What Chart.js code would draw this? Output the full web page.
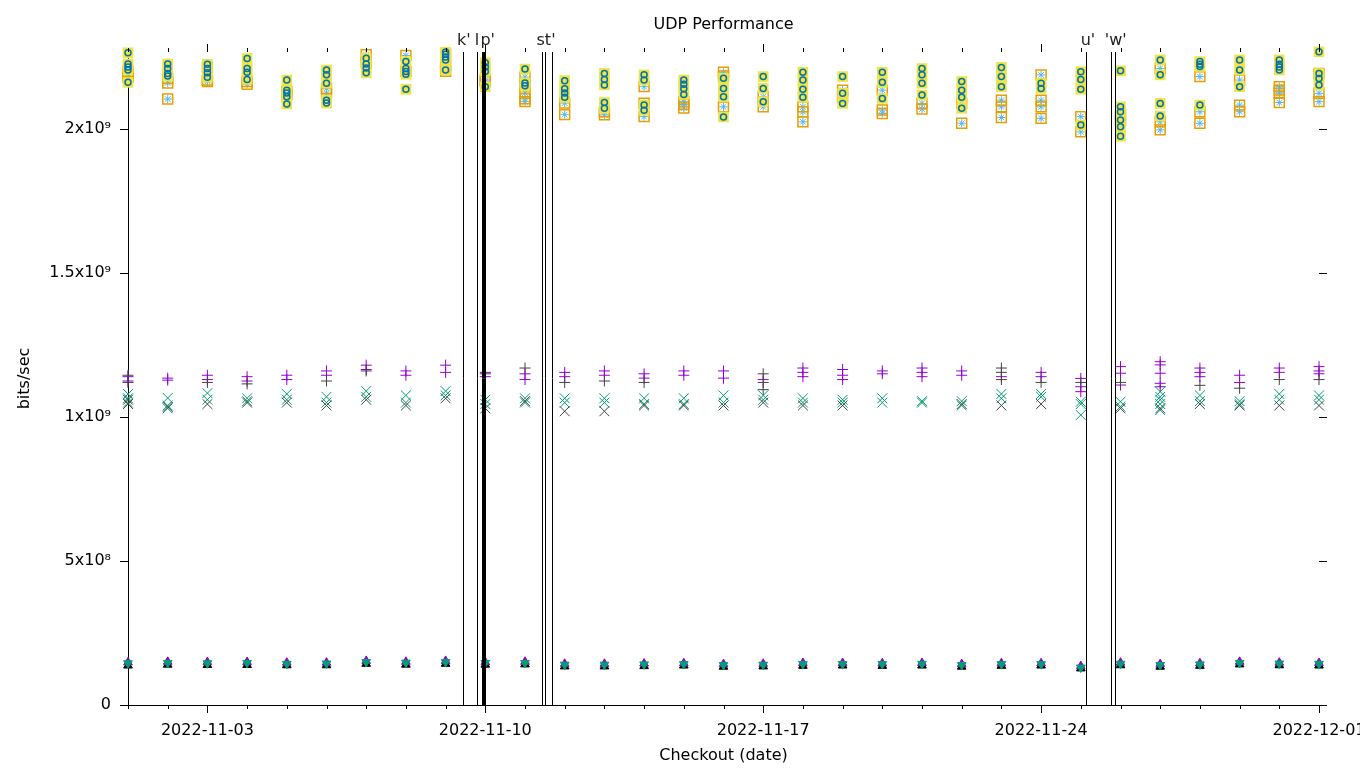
<!DOCTYPE html>
<html>
<head>
<meta charset="utf-8">
<title>UDP Performance</title>
<script src="https://cdn.jsdelivr.net/npm/chart.js@4.4.0/dist/chart.umd.min.js"></script>
<style>
  html, body { margin: 0; padding: 0; background: #fff; }
  canvas { display: block; }
</style>
</head>
<body>
<canvas id="grafica" width="1360" height="768"></canvas>
<script>
// fechas de checkout (una corrida por dia, varias muestras por dia)
const fechas = [
  '2022-11-01', '2022-11-02', '2022-11-03', '2022-11-04', '2022-11-05', '2022-11-06',
  '2022-11-07', '2022-11-08', '2022-11-09', '2022-11-10', '2022-11-11', '2022-11-12',
  '2022-11-13', '2022-11-14', '2022-11-15', '2022-11-16', '2022-11-17', '2022-11-18',
  '2022-11-19', '2022-11-20', '2022-11-21', '2022-11-22', '2022-11-23', '2022-11-24',
  '2022-11-25', '2022-11-26', '2022-11-27', '2022-11-28', '2022-11-29', '2022-11-30',
  '2022-12-01'
];
const fechasEtiqueta = ['2022-11-03', '2022-11-10', '2022-11-17', '2022-11-24', '2022-12-01'];
const yTicks = [0, 5e8, 1e9, 1.5e9, 2e9];

// valores en Gbit/s, un arreglo por dia
// grupo alto: cuadro amarillo + circulo azul (coinciden)
const altoA = [
  [2.265, 2.226, 2.215, 2.205, 2.162], [2.226, 2.21, 2.193, 2.184], [2.225, 2.21, 2.195, 2.18],
  [2.245, 2.21, 2.197, 2.172], [2.17, 2.135, 2.125, 2.112, 2.087], [2.205, 2.188, 2.159, 2.1, 2.09],
  [2.246, 2.226, 2.212, 2.195], [2.234, 2.21, 2.2, 2.19, 2.138], [2.267, 2.26, 2.25, 2.24, 2.205],
  [2.23, 2.215, 2.2, 2.147], [2.208, 2.16, 2.15], [2.168, 2.14, 2.125, 2.11],
  [2.193, 2.172, 2.153, 2.092, 2.072], [2.188, 2.17, 2.083, 2.065], [2.17, 2.155, 2.14, 2.12],
  [2.176, 2.141, 2.112, 2.042], [2.182, 2.141, 2.095], [2.197, 2.17, 2.138, 2.11],
  [2.182, 2.124, 2.089], [2.197, 2.162, 2.106], [2.21, 2.188, 2.159, 2.118],
  [2.165, 2.135, 2.11, 2.072], [2.214, 2.182, 2.147], [2.159, 2.141],
  [2.199, 2.172, 2.138, 2.014], [2.202, 2.077, 2.06, 2.031, 2.008, 1.975], [2.24, 2.188, 2.089, 2.045],
  [2.234, 2.225, 2.217, 2.083], [2.24, 2.205, 2.147], [2.24, 2.225, 2.215, 2.205],
  [2.268, 2.193, 2.175, 2.153]
];
// grupo alto: cuadro naranja + asterisco celeste (coinciden)
const altoB = [
  [2.2, 2.19, 2.18], [2.175, 2.16, 2.104], [2.215, 2.17, 2.165], [2.165, 2.155], [2.13, 2.12],
  [2.14, 2.125], [2.258, 2.23], [2.255, 2.2], [2.26, 2.22, 2.2], [2.17, 2.165],
  [2.18, 2.15, 2.125, 2.105, 2.095], [2.09, 2.05], [2.06, 2.049], [2.147, 2.09, 2.043],
  [2.095, 2.085, 2.073], [2.197, 2.184, 2.077], [2.112, 2.077], [2.077, 2.06, 2.025],
  [2.135, 2.11], [2.135, 2.066, 2.054], [2.089, 2.069], [2.089, 2.02], [2.1, 2.077, 2.04],
  [2.188, 2.1, 2.077, 2.037], [2.043, 1.99], [2.05, 2.03], [2.21, 2.025, 1.997],
  [2.182, 2.06, 2.02], [2.17, 2.083, 2.06], [2.147, 2.135, 2.124, 2.092], [2.193, 2.124, 2.095]
];
// grupo medio
const medioMorado = [
  [1.14, 1.125], [1.128, 1.135], [1.145, 1.13], [1.14, 1.125], [1.145, 1.13], [1.16, 1.145],
  [1.18, 1.165], [1.16, 1.145], [1.18, 1.155], [1.155, 1.14], [1.15, 1.13], [1.155, 1.14],
  [1.16, 1.145], [1.15, 1.135], [1.16, 1.145], [1.16, 1.135], [1.13], [1.17, 1.155, 1.14],
  [1.165, 1.145, 1.13], [1.16, 1.15], [1.17, 1.155, 1.14], [1.16, 1.145], [1.14],
  [1.155, 1.14], [1.134, 1.105, 1.088], [1.175, 1.152, 1.111], [1.192, 1.181, 1.152, 1.117, 1.105],
  [1.17, 1.155, 1.14], [1.145, 1.12], [1.17, 1.155], [1.175, 1.16, 1.15]
];
const medioNegroMas = [
  [1.145, 1.12], [], [1.12], [1.115], [], [1.125], [1.16], [], [], [1.15], [1.17], [1.12],
  [1.125], [1.12], [], [], [1.15, 1.12, 1.095], [], [], [], [], [], [1.17, 1.155, 1.13],
  [1.12], [1.12], [1.12], [], [1.11], [1.1], [1.13], [1.13]
];
const medioVerde = [
  [1.08, 1.065, 1.05], [1.066, 1.04, 1.03], [1.083, 1.06], [1.065, 1.055], [1.08, 1.06],
  [1.07, 1.05], [1.09, 1.07], [1.075, 1.05], [1.09, 1.075], [1.06, 1.045], [1.065, 1.05],
  [1.065, 1.05], [1.065, 1.05], [1.065, 1.045], [1.065, 1.045], [1.075, 1.05], [1.075, 1.06],
  [1.065, 1.05], [1.06, 1.05], [1.065, 1.05], [1.055, 1.05], [1.055, 1.04], [1.08, 1.065],
  [1.08, 1.07], [1.053, 1.045, 1.007], [1.053, 1.036], [1.088, 1.07, 1.06, 1.045, 1.024],
  [1.075, 1.055], [1.055, 1.045], [1.08, 1.06], [1.075, 1.06]
];
const medioNegroX = [
  [1.06, 1.045], [1.035], [1.045], [1.05], [1.05], [1.04], [1.06], [1.04], [1.065], [1.03],
  [1.055], [1.02], [1.02], [1.04], [1.04], [1.04], [1.05], [1.04], [1.04], [], [], [1.045],
  [1.04], [1.045], [], [1.03], [1.03], [1.045], [1.04], [1.04], [1.04]
];
// grupo bajo
const bajoMorado = [
  0.148, 0.15, 0.149, 0.149, 0.147, 0.147, 0.153, 0.15, 0.153, 0.149, 0.15, 0.143, 0.143, 0.144,
  0.145, 0.142, 0.143, 0.146, 0.146, 0.145, 0.146, 0.142, 0.145, 0.145, 0.135, 0.147, 0.142,
  0.145, 0.15, 0.147, 0.146
];
const bajoVerde = [
  0.145, 0.146, 0.145, 0.146, 0.143, 0.144, 0.149, 0.147, 0.149, 0.146, 0.146, 0.14, 0.14, 0.141,
  0.142, 0.139, 0.14, 0.142, 0.142, 0.142, 0.143, 0.139, 0.142, 0.142, 0.13, 0.143, 0.139,
  0.141, 0.146, 0.144, 0.143
];
const bajoNegro = [
  0.137, 0.14, 0.139, 0.139, 0.138, 0.138, 0.143, 0.14, 0.143, 0.14, 0.141, 0.134, 0.134, 0.135,
  0.137, 0.133, 0.134, 0.136, 0.137, 0.136, 0.137, 0.133, 0.136, 0.137, 0.127, 0.138, 0.133,
  0.136, 0.141, 0.138, 0.137
];

// marcas de eventos (dias desde el 2022-11-01)
const eventos = [8.43, 8.80, 8.92, 8.95, 8.97, 8.99, 10.44, 10.51, 10.67, 24.13, 24.75, 24.85];
const eventoTextos = ["k'", "l", "p'", "st'", "u'", "'w'"];
const eventoDias = [8.46, 8.79, 9.06, 10.53, 24.18, 24.88];

const DIA = 86400000;
const base = Date.parse(fechas[0]);
const diaDe = (f) => (Date.parse(f) - base) / DIA;
const diasEtiqueta = fechasEtiqueta.map(diaDe);

function formatDate(dia) {
  return new Date(base + dia * DIA).toISOString().slice(0, 10);
}

function puntos(porDia) {
  const out = [];
  porDia.forEach((vals, i) => {
    [].concat(vals).forEach(v => out.push({ x: diaDe(fechas[i]), y: v * 1e9 }));
  });
  return out;
}

const sup = { '0': '⁰', '1': '¹', '2': '²', '3': '³', '4': '⁴', '5': '⁵', '6': '⁶', '7': '⁷', '8': '⁸', '9': '⁹' };
function formatY(v) {
  if (v === 0) return '0';
  const e = Math.floor(Math.log10(v) + 1e-9);
  const m = +(v / Math.pow(10, e)).toFixed(2);
  return m + 'x10' + String(e).split('').map(c => sup[c]).join('');
}

function serie(data, estilo) {
  return Object.assign({ data, showLine: false, clip: false, pointHoverRadius: 0 }, estilo);
}

// en orden de dibujo (el ultimo queda encima)
const series = [
  serie(puntos(bajoNegro), { pointStyle: 'triangle', pointRadius: 5, backgroundColor: '#000', borderColor: '#000', borderWidth: 1 }),
  serie(puntos(bajoMorado), { pointStyle: 'triangle', pointRadius: 5, backgroundColor: '#9400D3', borderColor: '#9400D3', borderWidth: 1 }),
  serie(puntos(bajoVerde), { pointStyle: 'triangle', rotation: 180, pointRadius: 5, backgroundColor: '#009E73', borderColor: '#009E73', borderWidth: 1 }),
  serie(puntos(medioMorado), { pointStyle: 'cross', pointRadius: 5.5, borderColor: '#9400D3', borderWidth: 1 }),
  serie(puntos(medioVerde), { pointStyle: 'crossRot', pointRadius: 7, borderColor: '#009E73', borderWidth: 1 }),
  serie(puntos(medioNegroMas), { pointStyle: 'cross', pointRadius: 5.5, borderColor: '#444', borderWidth: 1 }),
  serie(puntos(medioNegroX), { pointStyle: 'crossRot', pointRadius: 7, borderColor: '#444', borderWidth: 1 }),
  serie(puntos(altoB), { pointStyle: 'star', pointRadius: 4, borderColor: '#56B4E9', borderWidth: 1 }),
  serie(puntos(altoB), { pointStyle: 'rect', pointRadius: 7, backgroundColor: 'rgba(0,0,0,0)', borderColor: '#E69F00', borderWidth: 1.5 }),
  serie(puntos(altoA), { pointStyle: 'rect', pointRadius: 7.5, backgroundColor: '#F0E442', borderColor: '#F0E442', borderWidth: 0 }),
  serie(puntos(altoA), { pointStyle: 'circle', pointRadius: 3, backgroundColor: 'rgba(0,0,0,0)', borderColor: '#0072B2', borderWidth: 1.5 })
];
series.forEach((s, i) => { s.order = -i; });

const marcoGnuplot = {
  id: 'marcoGnuplot',
  afterDatasetsDraw(chart) {
    const { ctx, chartArea: a, scales: { x } } = chart;
    ctx.save();
    ctx.strokeStyle = '#000';
    ctx.lineWidth = 1;
    ctx.beginPath();
    eventos.forEach(d => {
      const px = Math.round(x.getPixelForValue(d)) + 0.5;
      ctx.moveTo(px, a.top);
      ctx.lineTo(px, a.bottom);
    });
    ctx.stroke();
    ctx.restore();
  },
  afterDraw(chart) {
    const { ctx, chartArea: a, scales: { x, y } } = chart;
    ctx.save();
    ctx.strokeStyle = '#000';
    ctx.lineWidth = 1;
    ctx.beginPath();
    x.ticks.forEach(t => {
      const px = Math.round(x.getPixelForValue(t.value)) + 0.5;
      const largo = t.label ? 8 : 4;
      ctx.moveTo(px, a.bottom);
      ctx.lineTo(px, a.bottom + largo);
      ctx.moveTo(px, a.top);
      ctx.lineTo(px, a.top - largo);
    });
    y.ticks.forEach(t => {
      const py = Math.round(y.getPixelForValue(t.value)) + 0.5;
      ctx.moveTo(a.left, py);
      ctx.lineTo(a.left - 8, py);
      ctx.moveTo(a.right, py);
      ctx.lineTo(a.right + 8, py);
    });
    ctx.stroke();

    ctx.fillStyle = '#000';
    ctx.font = '16px "DejaVu Sans"';
    ctx.textAlign = 'center';
    ctx.textBaseline = 'middle';
    ctx.fillText('UDP Performance', (a.left + a.right) / 2, 25);

    ctx.textBaseline = 'alphabetic';
    ctx.fillStyle = '#222';
    eventoTextos.forEach((txt, i) => {
      ctx.fillText(txt, x.getPixelForValue(eventoDias[i]), 45);
    });
    ctx.restore();
  }
};

Chart.defaults.font.family = '"DejaVu Sans", sans-serif';
Chart.defaults.font.size = 16;
Chart.defaults.color = '#000';

const ctx = document.getElementById('grafica').getContext('2d');
const chart = new Chart(ctx, {
  type: 'scatter',
  data: { datasets: series },
  plugins: [marcoGnuplot],
  options: {
    responsive: false,
    devicePixelRatio: 1,
    animation: false,
    events: [],
    layout: { padding: { top: 52, right: 41, left: 0, bottom: 0 } },
    plugins: { legend: { display: false }, tooltip: { enabled: false } },
    scales: {
      x: {
        type: 'linear',
        min: 0,
        max: 30,
        grid: { display: true, drawOnChartArea: false, drawTicks: true, tickLength: 8, tickColor: 'rgba(0,0,0,0)' },
        border: { display: true, color: '#000', width: 1 },
        ticks: {
          stepSize: 1,
          autoSkip: false,
          maxRotation: 0,
          padding: 8,
          includeBounds: false,
          callback: (v) => diasEtiqueta.includes(v) ? formatDate(v) : ''
        },
        title: { display: true, text: 'Checkout (date)', padding: { top: 0, bottom: 3 } },
        afterFit: (s) => { s.height = 63; s.paddingLeft = 0; s.paddingRight = 0; }
      },
      y: {
        min: 0,
        max: 2.2674e9,
        grid: { display: true, drawOnChartArea: false, drawTicks: true, tickLength: 8, tickColor: 'rgba(0,0,0,0)' },
        border: { display: true, color: '#000', width: 1 },
        afterBuildTicks: (s) => { s.ticks = yTicks.map(v => ({ value: v })); },
        ticks: { padding: 9, callback: formatY },
        title: { display: true, text: 'bits/sec', padding: { top: 15, bottom: 0 } },
        afterFit: (s) => { s.width = 128; s.paddingTop = 0; s.paddingBottom = 0; }
      }
    }
  }
});
</script>
</body>
</html>
